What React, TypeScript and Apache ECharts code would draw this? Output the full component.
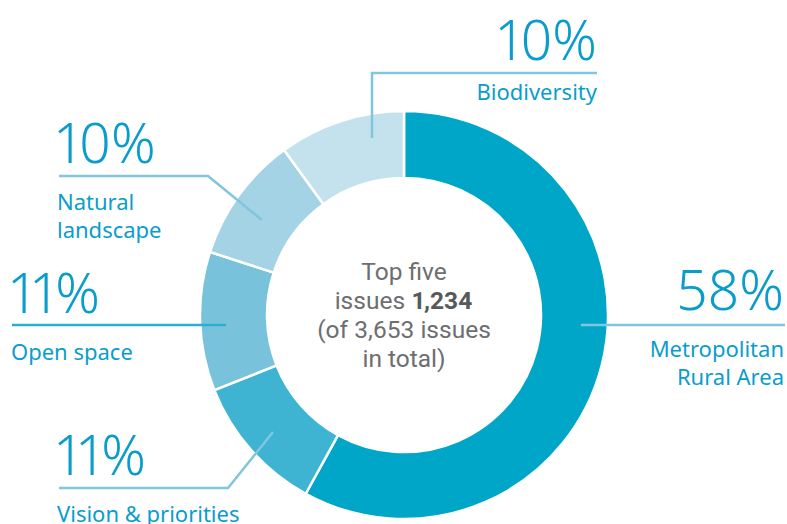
import React, { useEffect, useRef } from 'react';
import * as echarts from 'echarts';

// ---- data ----
const categories = ['Metropolitan\nRural Area', 'Vision & priorities', 'Open space', 'Natural\nlandscape', 'Biodiversity'];
const shares = [58, 11, 11, 10, 10];
const sliceColors = ['#00a6c8', '#3eb3d2', '#78c2db', '#a3d3e5', '#c4e2ed'];
const lineColors = ['#80c6dc', '#80c6dc', '#28afd3', '#80c6dc', '#80c6dc'];
const topFiveIssues = [1234];
const totalIssues = [3653];

const TEXT_BLUE = '#0a9dcc';
const GREY = '#6d6e71';
const PCT_FONT = '"Noto Sans", Roboto, sans-serif';
const NAME_FONT = '"Noto Sans", Roboto, sans-serif';
const CENTER_FONT = 'Roboto, "Noto Sans", sans-serif';

// label placement (layout, not data)
const placement: any[] = [
  { x: 784, top: 242.7, align: 'right', lh: 91, line: [[581, 325], [700, 325], [785, 325]] },
  { x: 57, top: 407.7, align: 'left', lh: 91, line: [[273, 432], [228, 488], [59, 488]] },
  { x: 11, top: 245.7, align: 'left', lh: 91, line: [[226, 325], [120, 325], [12, 325]] },
  { x: 57, top: 95.7, align: 'left', lh: 91, line: [[262, 220], [208, 176], [59, 176]] },
  { x: 597, top: -0.3, align: 'right', lh: 77, line: [[372, 138], [372, 73], [597, 73]] },
];

export default function App() {
  const ref = useRef<HTMLDivElement>(null);
  useEffect(() => {
    if (!ref.current) return;
    const chart = echarts.init(ref.current, undefined, { renderer: 'svg' });
    const total = shares.reduce((a, b) => a + b, 0);
    const richFor = (align: string, lh: number) => ({
      pct: { fontSize: 55, fontWeight: 300, fontFamily: PCT_FONT, color: TEXT_BLUE, lineHeight: lh, align },
      name: { fontSize: 22, fontWeight: 400, fontFamily: NAME_FONT, color: TEXT_BLUE, lineHeight: 28, align },
    });
    const labelData = categories.map((name, i) => {
      const p = placement[i];
      return {
        name,
        value: shares[i],
        label: { rich: richFor(p.align, p.lh) },
        labelLine: { lineStyle: { color: lineColors[i], width: 2.5, opacity: 1 } },
      };
    });
    const sliceData = categories.map((name, i) => ({
      name,
      value: shares[i],
      itemStyle: { color: sliceColors[i] },
    }));
    chart.setOption({
      animation: false,
      backgroundColor: '#ffffff',
      series: [
        {
          type: 'pie',
          z: 2,
          center: [404, 315],
          radius: [137, 204],
          startAngle: 90,
          clockwise: true,
          silent: true,
          itemStyle: { borderColor: '#ffffff', borderWidth: 2.5 },
          label: { show: false },
          labelLine: { show: false },
          data: sliceData,
        },
        {
          type: 'pie',
          z: 4,
          center: [404, 315],
          radius: [137, 204],
          startAngle: 90,
          clockwise: true,
          silent: true,
          avoidLabelOverlap: false,
          itemStyle: { color: 'rgba(0,0,0,0)', borderWidth: 0 },
          label: {
            show: true,
            formatter: (prm: any) => {
              const pct = Math.round((prm.value / total) * 100);
              const lines = String(prm.name).split('\n').map((s) => `{name|${s}}`);
              return `{pct|${pct}%}\n` + lines.join('\n');
            },
            rich: richFor('left', 91),
          },
          labelLine: { show: true, length: 10, length2: 10, smooth: false, lineStyle: { width: 2.5 } },
          labelLayout: (prm: any) => {
            const p = placement[prm.dataIndex];
            return { x: p.x, y: p.top, align: p.align, verticalAlign: 'top', labelLinePoints: p.line };
          },
          data: labelData,
        },
      ],
      graphic: [
        {
          type: 'text',
          x: 404,
          y: 315,
          z: 10,
          silent: true,
          style: {
            text:
              '{n|Top five}\n{n|issues }{b|' + topFiveIssues[0].toLocaleString('en-US') + '}\n{n|(of ' +
              totalIssues[0].toLocaleString('en-US') + ' issues}\n{n|in total)}',
            align: 'center',
            verticalAlign: 'middle',
            rich: {
              n: { fontSize: 24.5, fontFamily: CENTER_FONT, fill: GREY, lineHeight: 29 },
              b: { fontSize: 24.5, fontFamily: CENTER_FONT, fill: '#58595b', fontWeight: 700, lineHeight: 29 },
            },
          },
        },
      ],
    });
    return () => chart.dispose();
  }, []);
  return (
    <div
      ref={ref}
      style={{
        position: 'fixed', left: 0, top: 0, width: 787, height: 524, background: '#fff',
        fontFeatureSettings: '"pnum" 1',
      }}
    />
  );
}
